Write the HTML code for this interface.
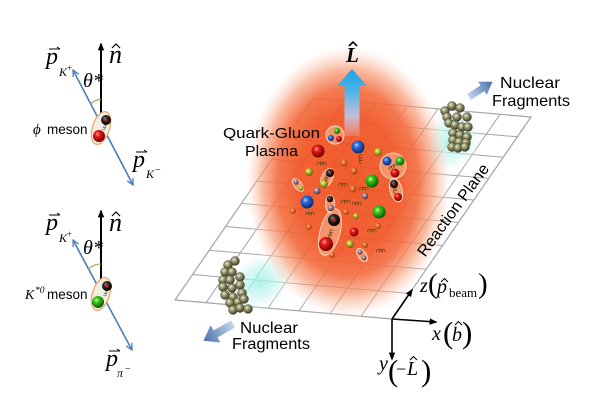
<!DOCTYPE html>
<html><head><meta charset="utf-8"><style>
html,body{margin:0;padding:0;background:#fff;}
svg{display:block;}
.s{font-family:"Liberation Serif","DejaVu Serif",serif;font-style:italic;}
.r{font-family:"Liberation Serif","DejaVu Serif",serif;}
.a{font-family:"Liberation Sans","DejaVu Sans",sans-serif;}
</style></head><body>
<svg width="600" height="412" viewBox="0 0 600 412" xmlns="http://www.w3.org/2000/svg">
<defs>
<radialGradient id="pl" cx="0.5" cy="0.5" r="0.5">
<stop offset="0" stop-color="#ef4f1c" stop-opacity="0.93"/>
<stop offset="0.5" stop-color="#f15424" stop-opacity="0.92"/>
<stop offset="0.68" stop-color="#f3683a" stop-opacity="0.88"/>
<stop offset="0.82" stop-color="#f6936a" stop-opacity="0.65"/>
<stop offset="0.93" stop-color="#fbcbb6" stop-opacity="0.32"/>
<stop offset="1" stop-color="#ffffff" stop-opacity="0"/>
</radialGradient>
<radialGradient id="cy" cx="0.5" cy="0.5" r="0.5">
<stop offset="0" stop-color="#9ff0e6" stop-opacity="0.85"/>
<stop offset="0.6" stop-color="#c4f5ef" stop-opacity="0.5"/>
<stop offset="1" stop-color="#ffffff" stop-opacity="0"/>
</radialGradient>
<linearGradient id="la" gradientUnits="userSpaceOnUse" x1="0" y1="69" x2="0" y2="136">
<stop offset="0" stop-color="#18a2e6"/>
<stop offset="0.35" stop-color="#52b4e6"/>
<stop offset="0.7" stop-color="#bcc6ea" stop-opacity="0.9"/>
<stop offset="1" stop-color="#e0cce8" stop-opacity="0.2"/>
</linearGradient>
<linearGradient id="fa" x1="0" y1="0" x2="1" y2="0">
<stop offset="0" stop-color="#c4d4ea"/>
<stop offset="1" stop-color="#4a70ad"/>
</linearGradient>
<radialGradient id="gR" cx="0.38" cy="0.35" r="0.65"><stop offset="0" stop-color="#ffb0a0"/><stop offset="0.3" stop-color="#ee1c1c"/><stop offset="1" stop-color="#700000"/></radialGradient>
<radialGradient id="gB" cx="0.38" cy="0.35" r="0.65"><stop offset="0" stop-color="#c0d8ff"/><stop offset="0.3" stop-color="#2f6ee0"/><stop offset="1" stop-color="#0a2870"/></radialGradient>
<radialGradient id="gG" cx="0.38" cy="0.35" r="0.65"><stop offset="0" stop-color="#d0ffb0"/><stop offset="0.3" stop-color="#3ccc1c"/><stop offset="1" stop-color="#0a5a00"/></radialGradient>
<radialGradient id="gD" cx="0.38" cy="0.35" r="0.65"><stop offset="0" stop-color="#909090"/><stop offset="0.35" stop-color="#2c2c2c"/><stop offset="1" stop-color="#000"/></radialGradient>
<radialGradient id="gY" cx="0.38" cy="0.35" r="0.65"><stop offset="0" stop-color="#fff8c0"/><stop offset="0.35" stop-color="#c8c030"/><stop offset="1" stop-color="#6a6010"/></radialGradient>
<radialGradient id="gO" cx="0.38" cy="0.35" r="0.65"><stop offset="0" stop-color="#ffc090"/><stop offset="0.4" stop-color="#e4702a"/><stop offset="1" stop-color="#a04010"/></radialGradient>
<radialGradient id="gV" cx="0.38" cy="0.35" r="0.65"><stop offset="0" stop-color="#f0e0f0"/><stop offset="0.4" stop-color="#a08090"/><stop offset="1" stop-color="#503040"/></radialGradient>
<radialGradient id="gF" cx="0.38" cy="0.35" r="0.65"><stop offset="0" stop-color="#f0f0d8"/><stop offset="0.35" stop-color="#a0a078"/><stop offset="1" stop-color="#3c3c24"/></radialGradient>
<path id="sp" d="M0,0 a1.6,1.8 0 1,1 2.6,0 a1.6,1.8 0 1,1 2.6,0 a1.6,1.8 0 1,1 2.6,0" fill="none" stroke="#6b4a1a" stroke-width="0.8"/>
<path id="spg" d="M0,0 a1.4,1.5 0 1,1 2.2,0 a1.4,1.5 0 1,1 2.2,0" fill="none" stroke="#5a8a50" stroke-width="0.8"/>
<marker id="mb" viewBox="0 0 10 10" refX="9" refY="5" markerWidth="8" markerHeight="8" orient="auto-start-reverse" markerUnits="userSpaceOnUse"><path d="M1,1 L9,5 L1,9" fill="none" stroke="#4a7ebb" stroke-width="1.6"/></marker>
<marker id="mk" viewBox="0 0 10 10" refX="8" refY="5" markerWidth="8" markerHeight="8" orient="auto" markerUnits="userSpaceOnUse"><path d="M0,1 L10,5 L0,9 Z" fill="#000"/></marker>
</defs>
<rect width="600" height="412" fill="#fff"/>

<!-- Reaction plane grid -->
<g stroke="#a3a3a3" stroke-width="1" fill="none">
<polygon points="314,98 531,117 392,319 175,300" stroke-width="1.2"/>
<path d="M345,100.7 L206,302.7 M376,103.4 L237,305.4 M407,106.1 L268,308.1 M438,108.9 L299,310.9 M469,111.6 L330,313.6 M500,114.3 L361,316.3"/>
<path d="M300.4,117.8 L517.4,136.8 M286.3,138.2 L503.3,157.2 M271.7,159.4 L488.7,178.4 M256.9,181 L473.9,200 M241.4,203.4 L458.4,222.4 M225.6,226.5 L442.6,245.5 M209.2,250.3 L426.2,269.3 M192.5,274.5 L409.5,293.5"/>
</g>

<!-- cyan glows -->
<ellipse cx="260" cy="282" rx="38" ry="28" fill="url(#cy)" transform="rotate(-30 260 282)"/>
<ellipse cx="452" cy="140" rx="30" ry="36" fill="url(#cy)" transform="rotate(30 452 140)"/>

<!-- plasma -->
<ellipse cx="348" cy="182" rx="104" ry="138" fill="url(#pl)"/>

<!-- L arrow -->
<path d="M352,69 L367,86 L359.5,86 L359.5,136 L344.5,136 L344.5,86 L337,86 Z" fill="url(#la)"/>
<text class="s" x="346" y="62" font-size="21" font-weight="bold">L</text>
<path d="M349,46 L353,42 L357,46" fill="none" stroke="#000" stroke-width="1.6"/>

<!-- hadron bubbles -->
<g fill="#f9b58f" fill-opacity="0.6" stroke="#fbd3bb" stroke-width="1">
<circle cx="335" cy="135" r="9"/>
<circle cx="393" cy="166" r="13"/>
<ellipse cx="327" cy="178" rx="5.5" ry="10" transform="rotate(25 327 178)"/>
<ellipse cx="396" cy="190" rx="6" ry="12" transform="rotate(-15 396 190)"/>
<ellipse cx="330" cy="232" rx="10" ry="24" transform="rotate(15 330 232)"/>
<ellipse cx="298" cy="185" rx="3.8" ry="7.5" transform="rotate(-40 298 185)"/>
<ellipse cx="330" cy="204" rx="4.5" ry="8.5"/>
<ellipse cx="362" cy="255" rx="4" ry="7.5" transform="rotate(-35 362 255)"/>
</g>

<!-- springs -->
<g>
<use href="#sp" transform="translate(362,163) rotate(-90)"/>
<use href="#sp" transform="translate(318,165)"/>
<use href="#sp" transform="translate(339,186)"/>
<use href="#sp" transform="translate(353,205)"/>
<use href="#sp" transform="translate(342,203)"/>
<use href="#sp" transform="translate(306,215)"/>
<use href="#sp" transform="translate(368,232)"/>
<use href="#sp" transform="translate(377,252)"/>
<use href="#sp" transform="translate(331,238) rotate(-75)"/>
<use href="#sp" transform="translate(390,170) rotate(-30)"/>
<use href="#sp" transform="translate(396,193) rotate(-80)"/>
<use href="#sp" transform="translate(326,183) rotate(-65)"/>
<use href="#sp" transform="translate(360,190)"/>
</g>

<!-- quarks -->
<g>
<circle cx="337" cy="131" r="3" fill="url(#gG)"/>
<circle cx="331" cy="138" r="3" fill="url(#gB)"/>
<circle cx="339" cy="139" r="3" fill="url(#gR)"/>
<circle cx="387" cy="161" r="4.5" fill="url(#gB)"/>
<circle cx="400" cy="161" r="4.5" fill="url(#gG)"/>
<circle cx="395" cy="173" r="4.5" fill="url(#gR)"/>
<circle cx="330" cy="173" r="4" fill="url(#gD)"/><circle cx="330" cy="173" r="1.2" fill="#d02020"/>
<circle cx="324" cy="184" r="4" fill="url(#gY)"/>
<circle cx="394" cy="184" r="4" fill="url(#gD)"/><circle cx="394" cy="184" r="1.2" fill="#d02020"/>
<circle cx="398" cy="197" r="4" fill="url(#gR)"/>
<circle cx="334" cy="220" r="6" fill="url(#gD)"/><circle cx="334" cy="220" r="1.8" fill="#c02020"/>
<circle cx="326" cy="244" r="7" fill="url(#gR)"/>
<circle cx="296" cy="182" r="2.6" fill="url(#gV)"/>
<circle cx="301" cy="188" r="2.6" fill="url(#gY)"/>
<circle cx="330" cy="199" r="3.2" fill="url(#gD)"/>
<circle cx="331" cy="208" r="3.2" fill="url(#gV)"/>
<circle cx="360" cy="252" r="2.5" fill="url(#gV)"/>
<circle cx="364" cy="258" r="2.5" fill="url(#gV)"/>
<circle cx="318" cy="151" r="6.5" fill="url(#gR)"/>
<circle cx="358" cy="147" r="6.5" fill="url(#gB)"/>
<circle cx="372" cy="181" r="6.5" fill="url(#gG)"/>
<circle cx="307" cy="202" r="6.5" fill="url(#gB)"/>
<circle cx="379" cy="212" r="6.5" fill="url(#gG)"/>
<circle cx="354" cy="232" r="4.5" fill="url(#gR)"/>
<circle cx="309" cy="172" r="4" fill="url(#gY)"/>
<circle cx="378" cy="152" r="4" fill="url(#gY)"/>
<circle cx="350" cy="244" r="4" fill="url(#gY)"/>
<circle cx="344" cy="163" r="3.5" fill="url(#gO)"/>
<circle cx="354" cy="171" r="3.5" fill="url(#gO)"/>
<circle cx="353" cy="189" r="3.5" fill="url(#gO)"/>
<circle cx="365" cy="196" r="3.2" fill="url(#gV)"/>
<circle cx="317" cy="191" r="3.5" fill="url(#gV)"/>
<circle cx="293" cy="211" r="3" fill="url(#gO)"/>
<circle cx="309" cy="227" r="3" fill="url(#gO)"/>
<circle cx="378" cy="226" r="3" fill="url(#gO)"/>
<circle cx="332" cy="255" r="3" fill="url(#gO)"/>
<circle cx="365" cy="245" r="3" fill="url(#gO)"/>
<circle cx="346" cy="212" r="3" fill="url(#gO)"/>
<circle cx="356" cy="216" r="3" fill="url(#gY)"/>
</g>

<!-- nuclear fragments top-right -->
<g fill="url(#gF)" stroke="#3a3a26" stroke-width="0.4">
<circle cx="445" cy="111" r="4.5"/><circle cx="452" cy="106" r="4.5"/><circle cx="460" cy="108" r="4.5"/>
<circle cx="447" cy="117" r="4.5"/><circle cx="449" cy="123" r="4.5"/><circle cx="457" cy="117" r="4.5"/>
<circle cx="467" cy="117" r="4.5"/><circle cx="455" cy="125" r="4.5"/><circle cx="462" cy="127" r="4.5"/>
<circle cx="468" cy="127" r="4.5"/><circle cx="453" cy="133" r="4.5"/><circle cx="460" cy="135" r="4.5"/>
<circle cx="467" cy="137" r="4.5"/><circle cx="453" cy="140" r="4.5"/><circle cx="459" cy="142" r="4.5"/>
<circle cx="466" cy="143" r="4.5"/><circle cx="452" cy="147" r="4.5"/><circle cx="458" cy="148" r="4.5"/>
<circle cx="465" cy="147" r="4.5"/>
</g>
<!-- nuclear fragments bottom-left -->
<g fill="url(#gF)" stroke="#3a3a26" stroke-width="0.4">
<circle cx="235" cy="261" r="4.5"/><circle cx="228" cy="265" r="4.5"/><circle cx="225" cy="272" r="4.5"/>
<circle cx="232" cy="272" r="4.5"/><circle cx="240" cy="277" r="4.5"/><circle cx="223" cy="280" r="4.5"/>
<circle cx="230" cy="280" r="4.5"/><circle cx="223" cy="287" r="4.5"/><circle cx="232" cy="288" r="4.5"/>
<circle cx="240" cy="285" r="4.5"/><circle cx="225" cy="295" r="4.5"/><circle cx="233" cy="297" r="4.5"/>
<circle cx="242" cy="293" r="4.5"/><circle cx="230" cy="303" r="4.5"/><circle cx="238" cy="302" r="4.5"/>
<circle cx="244" cy="299" r="4.5"/><circle cx="233" cy="310" r="4.5"/><circle cx="240" cy="308" r="4.5"/>
<circle cx="248" cy="309" r="4.5"/>
</g>

<!-- fragment arrows -->
<polygon points="0,-3.5 16,-3.5 16,-8 28,0 16,8 16,3.5 0,3.5" fill="url(#fa)" transform="translate(469,97) rotate(-33)"/>
<polygon points="0,-4 20,-4 20,-10 34,0 20,10 20,4 0,4" fill="url(#fa)" transform="translate(233,324) rotate(150.5)"/>

<!-- labels -->
<g class="a" fill="#000">
<text x="500" y="88" font-size="16" textLength="60" lengthAdjust="spacingAndGlyphs">Nuclear</text>
<text x="492" y="106" font-size="16" textLength="78" lengthAdjust="spacingAndGlyphs">Fragments</text>
<text x="240" y="333" font-size="15.5" textLength="58" lengthAdjust="spacingAndGlyphs">Nuclear</text>
<text x="232" y="349" font-size="15.5" textLength="78" lengthAdjust="spacingAndGlyphs">Fragments</text>
<text x="223" y="138" font-size="15" textLength="97" lengthAdjust="spacingAndGlyphs">Quark-Gluon</text>
<text x="245" y="156" font-size="15" textLength="53" lengthAdjust="spacingAndGlyphs">Plasma</text>
<text transform="translate(453,210) rotate(-54)" x="0" y="5.5" font-size="16" text-anchor="middle" textLength="110" lengthAdjust="spacingAndGlyphs">Reaction Plane</text>
</g>

<!-- axes -->
<g stroke="#000" stroke-width="1.6" fill="none">
<line x1="392" y1="319" x2="412" y2="290" marker-end="url(#mk)"/>
<line x1="392" y1="319" x2="436" y2="322" marker-end="url(#mk)"/>
<line x1="392" y1="319" x2="392" y2="359" marker-end="url(#mk)"/>
</g>
<g fill="#000">
<text class="s" x="420" y="292" font-size="20">z</text>
<text class="r" x="428" y="293" font-size="29">(</text>
<text class="s" x="437" y="293" font-size="20">p</text>
<text class="r" x="449" y="297" font-size="13">beam</text>
<text class="r" x="478" y="293" font-size="29">)</text>
<text class="s" x="432" y="340" font-size="20">x</text>
<text class="r" x="443" y="343" font-size="31">(</text>
<text class="s" x="452" y="341" font-size="20">b</text>
<text class="r" x="462" y="343" font-size="31">)</text>
<text class="s" x="379" y="370" font-size="20">y</text>
<text class="r" x="388" y="381" font-size="31">(</text>
<text class="r" x="396" y="375" font-size="18">−</text>
<text class="s" x="407" y="375" font-size="20">L</text>
<text class="r" x="421" y="381" font-size="31">)</text>
</g>
<g fill="none" stroke="#000" stroke-width="1">
<path d="M441,282 L444.5,278.5 L448,282"/>
<path d="M455,325 L458.5,321.5 L462,325"/>
<path d="M410,360 L413.5,356.5 L417,360"/>
</g>

<!-- Left panel 1: phi meson -->
<line x1="101" y1="115" x2="101" y2="44" stroke="#000" stroke-width="2" marker-end="url(#mk)"/>
<line x1="73" y1="70" x2="133" y2="185" stroke="#4a7ebb" stroke-width="1.6" marker-start="url(#mb)" marker-end="url(#mb)"/>
<path d="M90.7,104 Q95,99.5 101,99.5" fill="none" stroke="#b5a55a" stroke-width="1.2"/>
<ellipse cx="101" cy="128" rx="8.5" ry="17" transform="rotate(18 101 128)" fill="#f3eee4" stroke="#f2a46a" stroke-width="1.3"/>
<use href="#spg" transform="translate(104,125) rotate(110)"/>
<circle cx="106" cy="120" r="5" fill="url(#gD)"/><circle cx="106" cy="120" r="1.5" fill="#d02020"/>
<circle cx="99" cy="136" r="6" fill="url(#gR)"/>
<g fill="#000">
<text class="s" x="46" y="64" font-size="24">p</text>
<text class="s" x="59" y="76" font-size="12">K</text>
<text class="r" x="67" y="71" font-size="9">+</text>
<text class="s" x="83" y="87" font-size="20">θ*</text>
<text class="s" x="109" y="63" font-size="26">n</text>
<text x="33" y="134"><tspan class="s" font-size="15">ϕ</tspan><tspan class="a" x="47" font-size="13.5">meson</tspan></text>
<text class="s" x="133" y="167" font-size="24">p</text>
<text class="s" x="146" y="178" font-size="12">K</text>
<text class="r" x="155" y="173" font-size="10">−</text>
</g>
<g fill="none" stroke="#000" stroke-width="1">
<path d="M112,48 L116,44 L120,48" stroke-width="1.2"/>
<path d="M49,49 H60 M57,47 L60,49"/>
<path d="M136,152 H147 M144,150 L147,152"/>
</g>

<!-- Left panel 2: K*0 meson -->
<line x1="101" y1="282" x2="101" y2="211" stroke="#000" stroke-width="2" marker-end="url(#mk)"/>
<line x1="73" y1="240" x2="132" y2="350" stroke="#4a7ebb" stroke-width="1.6" marker-start="url(#mb)" marker-end="url(#mb)"/>
<path d="M88.5,269 Q94,264 101,264" fill="none" stroke="#b5a55a" stroke-width="1.2"/>
<ellipse cx="101" cy="294" rx="8.5" ry="17" transform="rotate(18 101 294)" fill="#f3eee4" stroke="#f2a46a" stroke-width="1.3"/>
<use href="#spg" transform="translate(105,291) rotate(110)"/>
<circle cx="107" cy="286" r="5" fill="url(#gD)"/><circle cx="107" cy="286" r="1.5" fill="#d02020"/>
<circle cx="98" cy="302" r="6" fill="url(#gG)"/>
<g fill="#000">
<text class="s" x="46" y="230" font-size="24">p</text>
<text class="s" x="59" y="242" font-size="12">K</text>
<text class="r" x="67" y="237" font-size="9">+</text>
<text class="s" x="83" y="254" font-size="20">θ*</text>
<text class="s" x="109" y="231" font-size="26">n</text>
<text class="s" x="25" y="299" font-size="14">K</text>
<text class="s" x="35" y="293" font-size="9.5">*0</text>
<text class="a" x="47" y="299" font-size="13.5">meson</text>
<text class="s" x="106" y="366" font-size="24">p</text>
<text class="s" x="117" y="377" font-size="12">π</text>
<text class="r" x="125" y="372" font-size="10">−</text>
</g>
<g fill="none" stroke="#000" stroke-width="1">
<path d="M112,216 L116,212 L120,216" stroke-width="1.2"/>
<path d="M49,215 H60 M57,213 L60,215"/>
<path d="M109,351 H120 M117,349 L120,351"/>
</g>
</svg>
</body></html>
